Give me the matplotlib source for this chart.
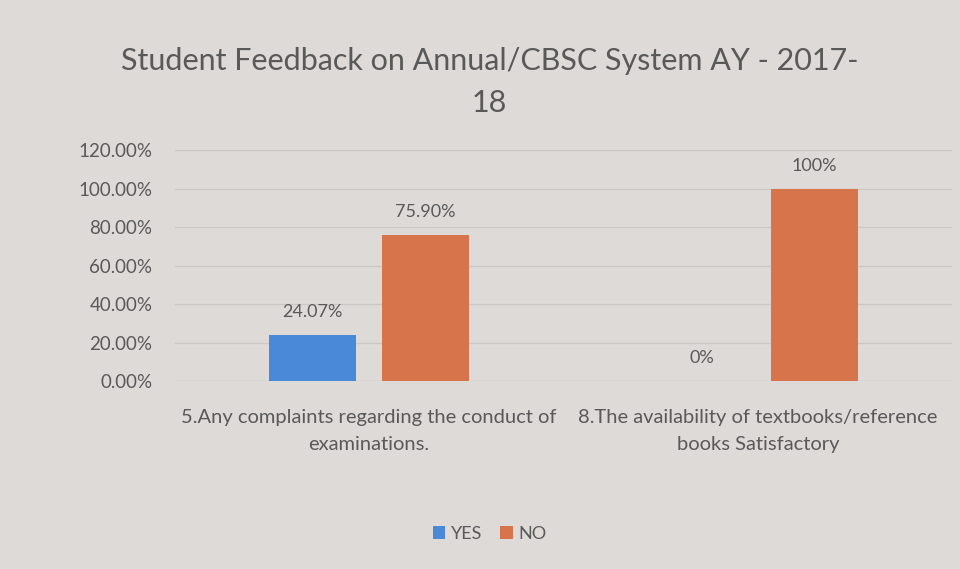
import matplotlib.pyplot as plt
import numpy as np

plt.rcParams['font.family'] = ['Lato', 'DejaVu Sans']

# chart data
categories = ["5.Any complaints regarding the conduct of\nexaminations.",
              "8.The availability of textbooks/reference\nbooks Satisfactory"]
yes_vals = [24.07, 0]
no_vals = [75.90, 100]
yes_labels = ["24.07%", "0%"]
no_labels = ["75.90%", "100%"]
y_ticks = [0, 20, 40, 60, 80, 100, 120]

bg = "#dedad8"
blue = "#4a89d8"
orange = "#d8744b"
gray = "#595959"

fig = plt.figure(figsize=(9.6, 5.69), dpi=100)
fig.patch.set_facecolor(bg)
ax = fig.add_axes([0.182, 0.330, 0.81, 0.406])
ax.set_facecolor(bg)

x = np.arange(len(categories))
w = 0.225
off = 0.145
b1 = ax.bar(x - off, yes_vals, w, color=blue, label="YES")
b2 = ax.bar(x + off, no_vals, w, color=orange, label="NO")

for rect, lab in zip(b1, yes_labels):
    ax.text(rect.get_x() + rect.get_width() / 2, rect.get_height() + 12, lab,
            ha='center', va='center', fontsize=13, color=gray)
for rect, lab in zip(b2, no_labels):
    ax.text(rect.get_x() + rect.get_width() / 2, rect.get_height() + 12, lab,
            ha='center', va='center', fontsize=13, color=gray)

ax.set_ylim(0, 120)
ax.set_xlim(-0.5, 1.5)
ax.set_yticks(y_ticks)
ax.set_yticklabels([f"{v:.2f}%" for v in y_ticks])
ax.set_xticks(x)
ax.set_xticklabels(categories, fontsize=14.5, color=gray, linespacing=1.7)
ax.tick_params(axis='y', length=0, labelsize=13.5, labelcolor=gray, pad=16)
ax.tick_params(axis='x', length=0, pad=20)
ax.yaxis.grid(True, color="#cbc7c5", linewidth=1)
ax.set_axisbelow(True)
for s in ax.spines.values():
    s.set_visible(False)

fig.text(0.51, 0.856, "Student Feedback on Annual/CBSC System AY - 2017-\n18",
         ha='center', va='center', fontsize=22, color=gray, linespacing=1.6)

fig.legend(loc='center', bbox_to_anchor=(0.51, 0.062), ncol=2, frameon=False,
           fontsize=13, labelcolor=gray, handlelength=0.7, handleheight=0.7,
           handletextpad=0.3, columnspacing=1.0)

plt.savefig("out.png", facecolor=bg)
